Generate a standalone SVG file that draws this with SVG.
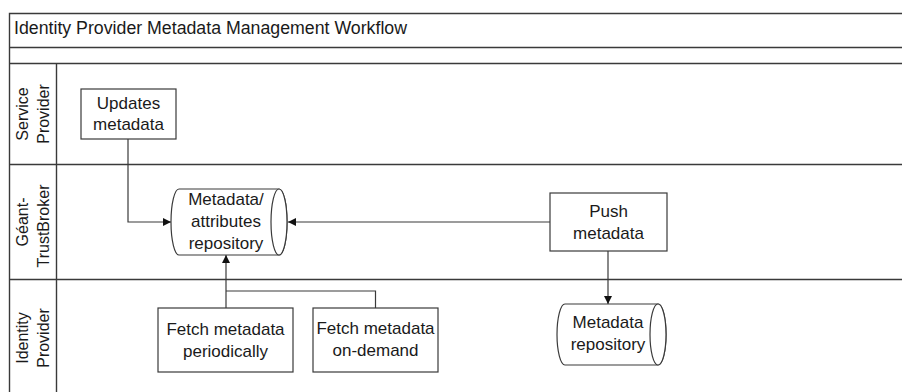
<svg xmlns="http://www.w3.org/2000/svg" width="902" height="392" viewBox="0 0 902 392">
<defs>
<style>
text{font-family:"Liberation Sans",Arial,sans-serif;font-size:17px;fill:#1a1a1a}
.c{text-anchor:middle}
.lane{font-size:16px}
.title{font-size:17.5px}
.frame{stroke:#3a3a3a;stroke-width:1.4;fill:none}
.node{fill:#fff;stroke:#3a3a3a;stroke-width:1.2}
.conn{fill:none;stroke:#3a3a3a;stroke-width:1.2}
</style>
<marker id="arr" viewBox="0 0 10 10" refX="10" refY="5" markerWidth="8" markerHeight="8" markerUnits="userSpaceOnUse" orient="auto">
<path d="M0,0 L10,5 L0,10 Z" fill="#111"/>
</marker>
</defs>
<rect width="902" height="392" fill="#fff"/>
<g id="pool">
<path class="frame" d="M9.5,392 V13.5 H902 M9.5,47.5 H902 M9.5,63.5 H902 M9.5,164.5 H902 M9.5,279.5 H902 M56.5,63.5 V392"/>
<text class="title" x="14" y="34" textLength="393" lengthAdjust="spacingAndGlyphs">Identity Provider Metadata Management Workflow</text>
</g>
<g id="lane-sp">
<text class="c lane" transform="translate(28,114) rotate(-90)">Service</text>
<text class="c lane" transform="translate(48.5,114) rotate(-90)">Provider</text>
</g>
<g id="lane-gtb">
<text class="c lane" transform="translate(28,222) rotate(-90)">Géant-</text>
<text class="c lane" transform="translate(48.5,226) rotate(-90)">TrustBroker</text>
</g>
<g id="lane-idp">
<text class="c lane" transform="translate(28,338) rotate(-90)">Identity</text>
<text class="c lane" transform="translate(48.5,338) rotate(-90)">Provider</text>
</g>
<g id="connectors">
<path class="conn" d="M128,139 V222 H171" marker-end="url(#arr)"/>
<path class="conn" d="M550,222 H288" marker-end="url(#arr)"/>
<path class="conn" d="M608,251 V304" marker-end="url(#arr)"/>
<path class="conn" d="M226,308 V255" marker-end="url(#arr)"/>
<path class="conn" d="M375.5,308 V291 H226"/>
</g>
<g id="updates-metadata">
<rect class="node" x="81" y="89" width="95" height="50"/>
<text class="c" x="128.5" y="108.5">Updates</text>
<text class="c" x="128.5" y="130">metadata</text>
</g>
<g id="attributes-repository">
<path class="node" d="M179,189 H279 A8,33 0 0 1 279,255 H179 A8,33 0 0 1 179,189 Z"/>
<ellipse class="node" cx="279" cy="222" rx="8" ry="33"/>
<text class="c" x="226" y="205">Metadata/</text>
<text class="c" x="226" y="227">attributes</text>
<text class="c" x="226" y="249">repository</text>
</g>
<g id="push-metadata">
<rect class="node" x="550" y="193" width="117" height="58"/>
<text class="c" x="608.5" y="217">Push</text>
<text class="c" x="608.5" y="238.5">metadata</text>
</g>
<g id="metadata-repository">
<path class="node" d="M565,304 H658 A8,30.5 0 0 1 658,365 H565 A8,30.5 0 0 1 565,304 Z"/>
<ellipse class="node" cx="658" cy="334.5" rx="8" ry="30.5"/>
<text class="c" x="608" y="328">Metadata</text>
<text class="c" x="608" y="350">repository</text>
</g>
<g id="fetch-periodically">
<rect class="node" x="158" y="308" width="135" height="64"/>
<text class="c" x="225.5" y="335">Fetch metadata</text>
<text class="c" x="225.5" y="357">periodically</text>
</g>
<g id="fetch-on-demand">
<rect class="node" x="313" y="308" width="125" height="64"/>
<text class="c" x="375.5" y="334">Fetch metadata</text>
<text class="c" x="375.5" y="356">on-demand</text>
</g>
</svg>
